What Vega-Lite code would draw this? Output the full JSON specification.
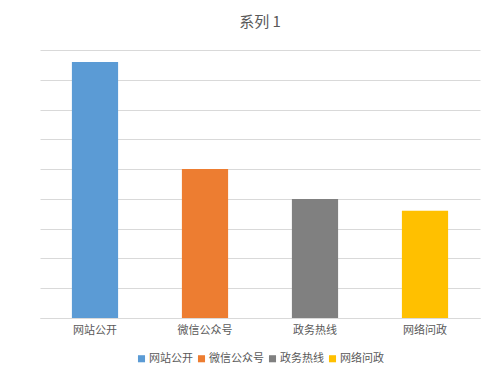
{
  "$schema": "https://vega.github.io/schema/vega-lite/v6.json",
  "width": 440,
  "height": 268,
  "autosize": {"type": "none"},
  "padding": {"left": 40, "top": 50, "right": 20, "bottom": 57},
  "background": "white",
  "title": {"text": "系列 1", "fontSize": 15, "font": "Noto Sans CJK SC", "fontWeight": "normal", "color": "#595959", "offset": 20, "anchor": "middle"},
  "data": {"values": [
    {"category": "网站公开", "value": 43},
    {"category": "微信公众号", "value": 25},
    {"category": "政务热线", "value": 20},
    {"category": "网络问政", "value": 18}
  ]},
  "mark": {"type": "bar"},
  "encoding": {
    "x": {"field": "category", "type": "nominal", "sort": null,
      "scale": {"paddingInner": 0.58, "paddingOuter": 0.29},
      "axis": {"title": null, "labelAngle": 0, "labelFont": "Noto Sans CJK SC", "labelFontSize": 11, "labelColor": "#595959", "ticks": false, "domainColor": "#D9D9D9", "labelPadding": 6}},
    "y": {"field": "value", "type": "quantitative",
      "scale": {"domain": [0, 45]},
      "axis": {"title": null, "labels": false, "ticks": false, "domain": false, "values": [0,5,10,15,20,25,30,35,40,45], "gridColor": "#D9D9D9"}},
    "color": {"field": "category", "type": "nominal", "sort": null,
      "scale": {"domain": ["网站公开", "微信公众号", "政务热线", "网络问政"], "range": ["#5B9BD5", "#ED7D31", "#808080", "#FFC000"]},
      "legend": {"orient": "bottom", "direction": "horizontal", "title": null, "symbolType": "square", "symbolSize": 50, "labelFont": "Noto Sans CJK SC", "labelFontSize": 11, "labelColor": "#595959", "columnPadding": 3, "labelOffset": 2, "symbolOffset": 0, "offset": 18}}
  },
  "config": {"view": {"stroke": null}, "axis": {"gridWidth": 1}, "legend": {"layout": {"bottom": {"anchor": "middle"}}}}
}
